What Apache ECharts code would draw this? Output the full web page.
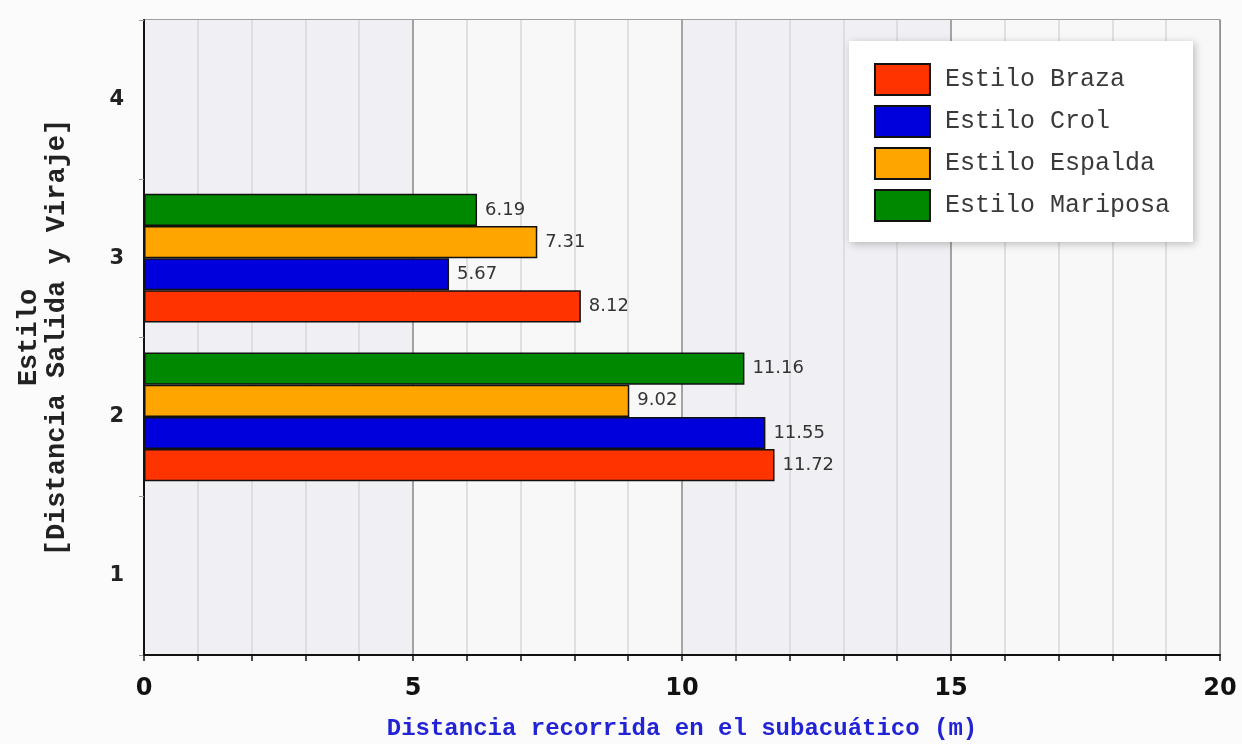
<!doctype html>
<html>
<head>
    <meta charset="utf-8">
    <title>Distancia recorrida en el subacuático</title>
    <script src="https://cdn.jsdelivr.net/npm/echarts@6/dist/echarts.min.js"></script>
    <style>
        html, body { margin: 0; padding: 0; background: #fbfbfb; }
        #chart { width: 1242px; height: 744px; }
    </style>
</head>
<body>
<div id="chart"></div>
<script type="text/javascript">
    var categories = ['1', '2', '3', '4'];
    var braza    = [null, 11.72, 8.12, null];
    var crol     = [null, 11.55, 5.67, null];
    var espalda  = [null, 9.02, 7.31, null];
    var mariposa = [null, 11.16, 6.19, null];

    var mono = '"Liberation Mono", "DejaVu Sans Mono", monospace';

    function serie(name, data, color) {
        return {
            name: name,
            type: 'bar',
            data: data,
            barGap: '0%',
            barCategoryGap: '19%',
            itemStyle: { color: color, borderColor: '#111', borderWidth: 1.5 },
            label: {
                show: true,
                position: 'right',
                distance: 8,
                color: '#333',
                fontSize: 18,
                fontFamily: '"DejaVu Sans", sans-serif',
                formatter: function (p) { return p.value.toFixed(2); }
            }
        };
    }

    var myChart = echarts.init(document.getElementById('chart'));
    var option = {
        backgroundColor: '#fbfbfb',
        animation: false,
        grid: {
            left: 144, right: 22, top: 20, bottom: 89,
            outerBoundsMode: 'none',
            show: true, borderColor: '#999', borderWidth: 1.5,
            backgroundColor: 'transparent'
        },
        legend: {
            right: 49, top: 41,
            orient: 'vertical',
            backgroundColor: '#fff',
            padding: [22, 23, 20, 25],
            itemWidth: 55, itemHeight: 31, itemGap: 9,
            shadowBlur: 8, shadowColor: 'rgba(0,0,0,0.25)', shadowOffsetX: 2, shadowOffsetY: 2,
            icon: 'rect',
            itemStyle: { borderColor: '#111', borderWidth: 2 },
            textStyle: { fontFamily: mono, fontSize: 25, color: '#3a3a3a', padding: [0, 0, 0, 10] },
            data: ['Estilo Braza', 'Estilo Crol', 'Estilo Espalda', 'Estilo Mariposa']
        },
        xAxis: {
            type: 'value',
            min: 0, max: 20, interval: 5,
            name: 'Distancia recorrida en el subacuático (m)',
            nameLocation: 'middle',
            nameGap: 62,
            nameTextStyle: { fontFamily: mono, fontWeight: 'bold', fontSize: 24, color: '#2323d6' },
            axisLine: { show: true, lineStyle: { color: '#111', width: 2 } },
            axisTick: { show: true, length: 6, lineStyle: { color: '#111', width: 1.5 } },
            minorTick: { show: true, splitNumber: 5, length: 6, lineStyle: { color: '#111', width: 1.5 } },
            axisLabel: {
                margin: 22, fontSize: 24, fontWeight: 'bold', color: '#111',
                fontFamily: '"DejaVu Sans", sans-serif'
            },
            splitLine: { show: true, lineStyle: { color: '#888', width: 1.5 } },
            minorSplitLine: { show: true, lineStyle: { color: '#d8d8d8', width: 1.5 } },
            splitArea: { show: true, areaStyle: { color: ['#f0f0f4', '#f8f8f8'] } }
        },
        yAxis: {
            type: 'category',
            data: categories,
            name: 'Estilo\n[Distancia Salida y Viraje]',
            nameLocation: 'middle',
            nameGap: 73,
            nameTextStyle: { fontFamily: mono, fontWeight: 'bold', fontSize: 27, color: '#222', lineHeight: 28 },
            axisLine: { show: true, lineStyle: { color: '#111', width: 2 } },
            axisTick: { show: true, length: 5, lineStyle: { color: '#999' } },
            axisLabel: {
                margin: 20, fontSize: 21, fontWeight: 'bold', color: '#222',
                fontFamily: '"DejaVu Sans", sans-serif'
            },
            splitLine: { show: true, lineStyle: { color: '#999', width: 1.5 } }
        },
        // ECharts stacks horizontal bars top-down in series order, so Braza goes last to sit at the bottom
        series: [
            serie('Estilo Mariposa', mariposa, '#008800'),
            serie('Estilo Espalda', espalda, '#ffa500'),
            serie('Estilo Crol', crol, '#0000dd'),
            serie('Estilo Braza', braza, '#ff3300')
        ]
    };
    myChart.setOption(option);
</script>
</body>
</html>
